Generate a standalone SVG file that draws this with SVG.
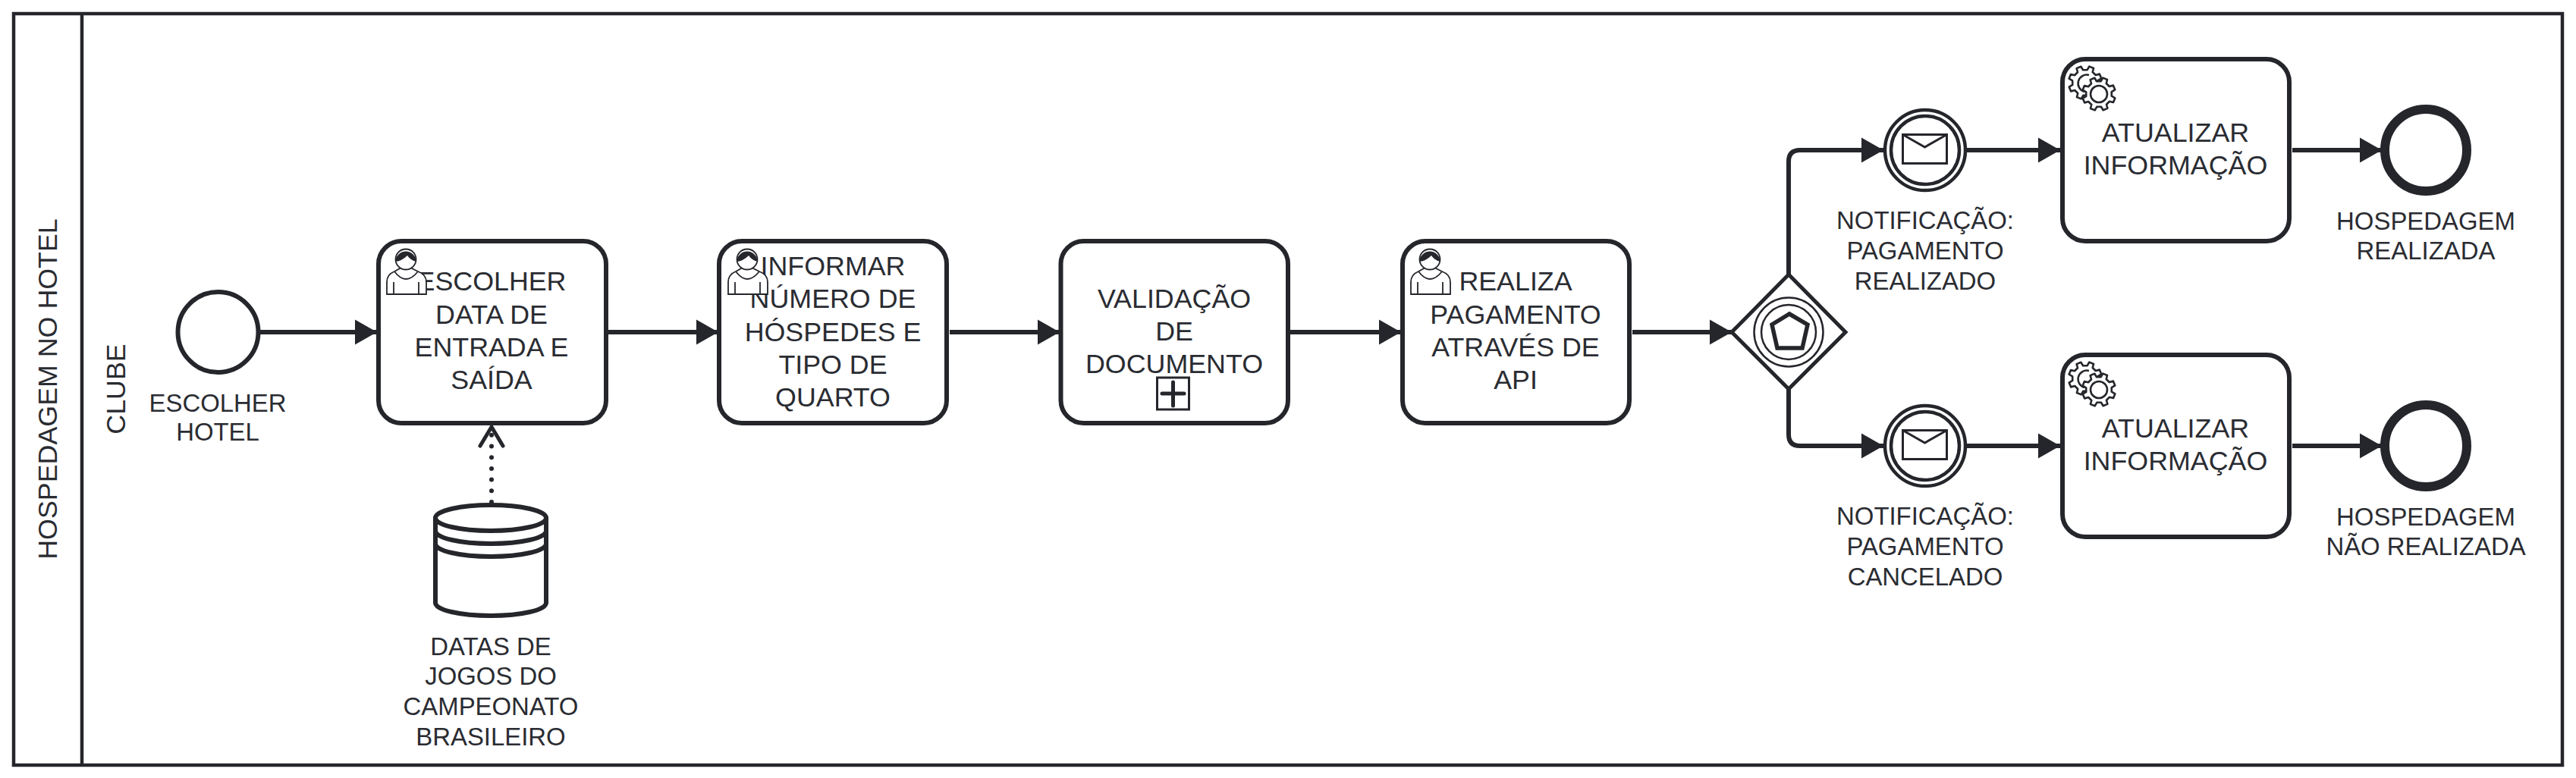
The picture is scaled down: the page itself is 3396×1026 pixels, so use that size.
<svg xmlns="http://www.w3.org/2000/svg" xmlns:xlink="http://www.w3.org/1999/xlink" width="3396" height="1026" viewBox="0 0 3396 1026">
<style>
.t{font-family:"Liberation Sans",Arial,sans-serif;fill:#2a2c32;text-anchor:middle}
.f35{font-size:35.800px}
.f32{font-size:32.900px}
.s{fill:#fff;stroke:#24262b;stroke-width:6}
.n{fill:none;stroke:#24262b;stroke-width:6}
.e{fill:none;stroke:#24262b;stroke-width:6;marker-end:url(#arr)}
.i{fill:#fff;stroke:#24262b;stroke-width:1.8}
.g{fill:#fff;stroke:#24262b;stroke-width:2.6;stroke-linejoin:round}
</style>
<defs>
<marker id="arr" markerUnits="userSpaceOnUse" markerWidth="30" markerHeight="34" refX="29" refY="17" orient="auto"><path d="M0 0.5 L29 17 L0 33.5Z" fill="#24262b"/></marker>
<path id="gear" d="M16.6 -3.8L21.8 -3.1L21.8 3.1L16.6 3.8L14.4 9L17.6 13.2L13.2 17.6L9 14.4L3.8 16.6L3.1 21.8L-3.1 21.8L-3.8 16.6L-9 14.4L-13.2 17.6L-17.6 13.2L-14.4 9L-16.6 3.8L-21.8 3.1L-21.8 -3.1L-16.6 -3.8L-14.4 -9L-17.6 -13.2L-13.2 -17.6L-9 -14.4L-3.8 -16.6L-3.1 -21.8L3.1 -21.8L3.8 -16.6L9 -14.4L13.2 -17.6L17.6 -13.2L14.4 -9Z"/>
<g id="user">
<path class="i" d="M510 388V372Q510 362 520 358L529 353H541L551 358Q562 362 562 372V388Z"/>
<path class="i" d="M520 358Q535 378 551 358M519 372V388M552 372V388" fill="none"/>
<circle class="i" cx="535" cy="342" r="13.5"/>
<path d="M521.500 345A13.500 13.500 0 0 1 548.500 345Q541 343 537 337Q530 344 521.500 345Z" fill="#24262b"/>
</g>
<g id="gears">
<g transform="translate(2749 109) rotate(22)"><use xlink:href="#gear" href="#gear" class="g"/></g>
<path d="M2754 99A11 11 0 1 0 2748 121" fill="none" stroke="#24262b" stroke-width="2.6"/>
<g transform="translate(2767 124) rotate(22)"><use xlink:href="#gear" href="#gear" class="g"/></g>
<circle cx="2767" cy="124" r="11" fill="#fff" stroke="#24262b" stroke-width="2.6"/>
</g>
<g id="mail">
<circle cx="2538" cy="198" r="53" fill="#fff" stroke="#24262b" stroke-width="4.5"/>
<circle cx="2538" cy="198" r="45" fill="#fff" stroke="#24262b" stroke-width="4.500"/>
<rect x="2508.500" y="177.500" width="58" height="38" fill="#fff" stroke="#24262b" stroke-width="3"/>
<path d="M2508.500 177.500L2537.500 194L2566.500 177.500" fill="none" stroke="#24262b" stroke-width="3"/>
</g>
</defs>
<rect width="3396" height="1026" fill="#fff"/>
<g id="pool" fill="none" stroke="#24262b" stroke-width="4.500">
<rect x="18" y="18" width="3360" height="991"/>
<path d="M108 18V1009"/>
</g>
<text class="t f35" transform="translate(75 513) rotate(-90)">HOSPEDAGEM NO HOTEL</text>
<text class="t f35" transform="translate(165 513) rotate(-90)">CLUBE</text>
<g id="connectors">
<path class="e" d="M343 438H497"/>
<path class="e" d="M802 438H947"/>
<path class="e" d="M1252 438H1397"/>
<path class="e" d="M1701 438H1847"/>
<path class="e" d="M2152 438H2283"/>
<path class="e" d="M2358 362V213Q2358 198 2373 198H2483"/>
<path class="e" d="M2358 513V573Q2358 588 2373 588H2483"/>
<path class="e" d="M2593 198H2716"/>
<path class="e" d="M2593 588H2716"/>
<path class="e" d="M3022 198H3140"/>
<path class="e" d="M3022 588H3140"/>
<path d="M648 662V572" fill="none" stroke="#24262b" stroke-width="6" stroke-linecap="round" stroke-dasharray="0 14.700"/>
<path d="M633 588L648 563L663 588" fill="none" stroke="#24262b" stroke-width="5" stroke-linecap="round" stroke-linejoin="round"/>
</g>
<g id="start">
<circle class="s" cx="287.500" cy="438" r="53"/>
<text class="t f32" x="287" y="543">ESCOLHER</text>
<text class="t f32" x="287" y="581">HOTEL</text>
</g>
<g id="task1">
<rect class="s" x="499" y="318" width="300" height="240" rx="30"/>
<text class="t f35" x="648" y="383">ESCOLHER</text>
<text class="t f35" x="648" y="427">DATA DE</text>
<text class="t f35" x="648" y="470">ENTRADA E</text>
<text class="t f35" x="648" y="513">SAÍDA</text>
<use xlink:href="#user" href="#user"/>
</g>
<g id="store">
<path class="s" d="M574 683V795A73 17 0 0 0 720 795V683A73 17 0 0 0 574 683Z"/>
<path class="n" d="M574 683A73 17 0 0 0 720 683M574 700A73 17 0 0 0 720 700M574 717A73 17 0 0 0 720 717"/>
<text class="t f32" x="647" y="864">DATAS DE</text>
<text class="t f32" x="647" y="903">JOGOS DO</text>
<text class="t f32" x="647" y="943">CAMPEONATO</text>
<text class="t f32" x="647" y="983">BRASILEIRO</text>
</g>
<g id="task2">
<rect class="s" x="948" y="318" width="300" height="240" rx="30"/>
<text class="t f35" x="1098" y="363">INFORMAR</text>
<text class="t f35" x="1098" y="406">NÚMERO DE</text>
<text class="t f35" x="1098" y="450">HÓSPEDES E</text>
<text class="t f35" x="1098" y="493">TIPO DE</text>
<text class="t f35" x="1098" y="536">QUARTO</text>
<use xlink:href="#user" href="#user" x="450"/>
</g>
<g id="task3">
<rect class="s" x="1398.500" y="318" width="299.500" height="240" rx="30"/>
<text class="t f35" x="1548" y="406">VALIDAÇÃO</text>
<text class="t f35" x="1548" y="449">DE</text>
<text class="t f35" x="1548" y="492">DOCUMENTO</text>
<rect x="1525.500" y="498" width="42" height="42" fill="#fff" stroke="#24262b" stroke-width="3"/>
<path d="M1532 519H1561M1546.500 504V535" fill="none" stroke="#24262b" stroke-width="5" stroke-linecap="round"/>
</g>
<g id="task4">
<rect class="s" x="1849" y="318" width="299" height="240" rx="30"/>
<text class="t f35" x="1998" y="383">REALIZA</text>
<text class="t f35" x="1998" y="427">PAGAMENTO</text>
<text class="t f35" x="1998" y="470">ATRAVÉS DE</text>
<text class="t f35" x="1998" y="513">API</text>
<use xlink:href="#user" href="#user" x="1350"/>
</g>
<g id="gateway">
<path d="M2358 362L2433 438L2358 513L2283 438Z" fill="#fff" stroke="#24262b" stroke-width="5"/>
<circle cx="2358" cy="438" r="45.500" fill="none" stroke="#24262b" stroke-width="2.500"/>
<circle cx="2358" cy="438" r="36" fill="none" stroke="#24262b" stroke-width="2.500"/>
<path d="M2359 414L2383 428L2376 459H2343L2336 428Z" fill="none" stroke="#24262b" stroke-width="5.500"/>
</g>
<g id="event1">
<use xlink:href="#mail" href="#mail"/>
<text class="t f32" x="2538" y="302">NOTIFICAÇÃO:</text>
<text class="t f32" x="2538" y="342">PAGAMENTO</text>
<text class="t f32" x="2538" y="382">REALIZADO</text>
</g>
<g id="event2">
<use xlink:href="#mail" href="#mail" y="390"/>
<text class="t f32" x="2538" y="692">NOTIFICAÇÃO:</text>
<text class="t f32" x="2538" y="732">PAGAMENTO</text>
<text class="t f32" x="2538" y="772">CANCELADO</text>
</g>
<g id="task5">
<rect class="s" x="2719" y="78" width="299" height="240" rx="30"/>
<use xlink:href="#gears" href="#gears"/>
<text class="t f35" x="2868" y="187">ATUALIZAR</text>
<text class="t f35" x="2868" y="230">INFORMAÇÃO</text>
</g>
<g id="task6">
<rect class="s" x="2719" y="468" width="299" height="240" rx="30"/>
<use xlink:href="#gears" href="#gears" y="390"/>
<text class="t f35" x="2868" y="577">ATUALIZAR</text>
<text class="t f35" x="2868" y="620">INFORMAÇÃO</text>
</g>
<g id="end1">
<circle cx="3198" cy="198" r="54" fill="#fff" stroke="#24262b" stroke-width="12"/>
<text class="t f32" x="3198" y="303">HOSPEDAGEM</text>
<text class="t f32" x="3198" y="342">REALIZADA</text>
</g>
<g id="end2">
<circle cx="3198" cy="588" r="54" fill="#fff" stroke="#24262b" stroke-width="12"/>
<text class="t f32" x="3198" y="693">HOSPEDAGEM</text>
<text class="t f32" x="3198" y="732">NÃO REALIZADA</text>
</g>
</svg>
